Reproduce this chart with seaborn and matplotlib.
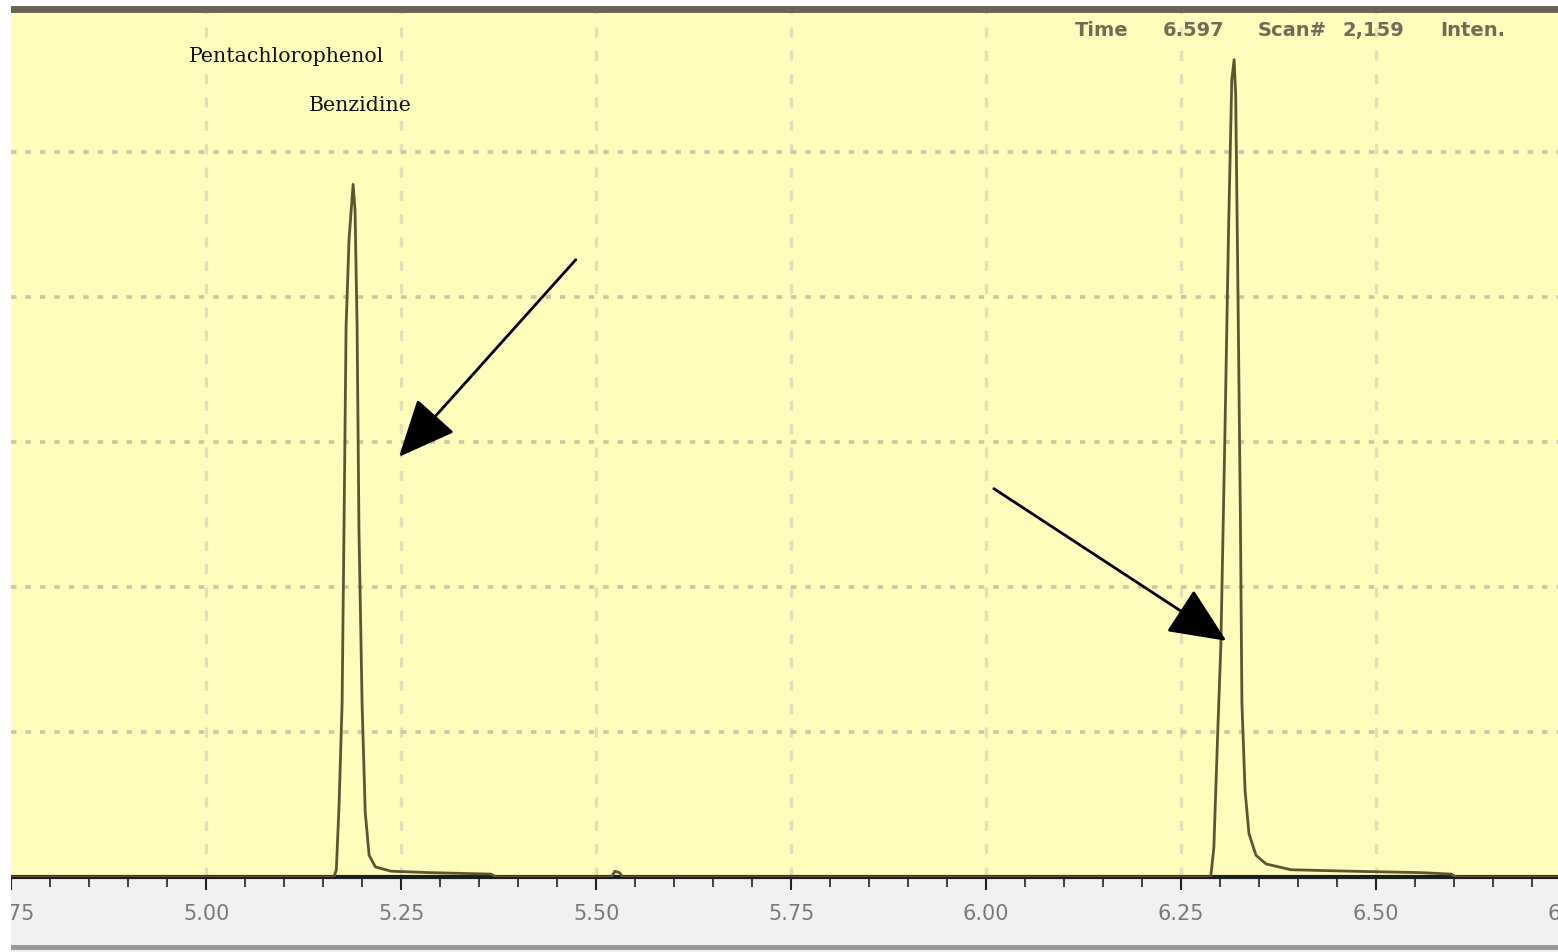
import numpy as np
import pandas as pd
import matplotlib
matplotlib.use("Agg")
import matplotlib.pyplot as plt
import matplotlib.transforms as mtransforms
from matplotlib.patches import Rectangle
import seaborn as sns

# ---- data (time in min, intensity in grid units) ----
time_min = [4.75, 5.000, 5.160, 5.164, 5.167, 5.1705, 5.1744, 5.177, 5.1795, 5.1833, 5.186,
            5.1885, 5.191, 5.1936, 5.196, 5.200, 5.204, 5.209, 5.217, 5.237, 5.288,
            5.365, 5.372, 5.520, 5.524, 5.530, 5.534, 6.000, 6.284, 6.288, 6.292, 6.297, 6.301,
            6.306, 6.311, 6.315, 6.318, 6.320, 6.323, 6.326, 6.328, 6.332, 6.337,
            6.346, 6.359, 6.391, 6.468, 6.558, 6.596, 6.603, 6.74]
intensity = [0.0, 0.0, 0.0, 0.0, 0.05, 0.5, 1.2, 2.5, 3.8, 4.4, 4.6,
             4.78, 4.6, 3.8, 2.4, 1.2, 0.45, 0.15, 0.07, 0.04, 0.03,
             0.02, 0.0, 0.0, 0.04, 0.03, 0.0, 0.0, 0.0, 0.0, 0.2, 1.0, 1.6,
             3.0, 4.5, 5.5, 5.64, 5.4, 4.0, 2.5, 1.2, 0.6, 0.3,
             0.15, 0.09, 0.05, 0.04, 0.03, 0.02, 0.0, 0.0]

tick_values = [4.75, 5.00, 5.25, 5.50, 5.75, 6.00, 6.25, 6.50, 6.75]
tick_labels = ["4.75", "5.00", "5.25", "5.50", "5.75", "6.00", "6.25", "6.50", "6.75"]

peak_names = ["Pentachlorophenol", "Benzidine"]
header_parts = ["Time", "6.597", "Scan#", "2,159", "Inten."]

df = pd.DataFrame({"time": time_min, "intensity": intensity})

sns.set_theme(style="white")
plt.rcParams["font.family"] = ["DejaVu Sans"]

W, H = 1558, 953
fig = plt.figure(figsize=(W / 100, H / 100), dpi=100)
fig.patch.set_facecolor("white")

# lower grey strip (tick label band) and frame lines
fig.add_artist(Rectangle((11 / W, 0.0), 1 - 11 / W, (953 - 878) / H, transform=fig.transFigure,
                         facecolor="#f1f1f1", edgecolor="none", zorder=0))
fig.add_artist(Rectangle((11 / W, 2 / H), 1 - 11 / W, 5 / H, transform=fig.transFigure,
                         facecolor="#9a9a9a", edgecolor="none", zorder=0))

ax = fig.add_axes([11 / W, (953 - 878) / H, 1 - 11 / W, (878 - 10) / H])
ax.set_facecolor("#fffdbb")

sns.lineplot(data=df, x="time", y="intensity", sort=False, estimator=None,
             color="#5e5434", linewidth=2.0, ax=ax, zorder=3)

ax.set_xticks(tick_values[:-1])
ax.set_xticklabels(tick_labels[:-1], color="#7a7a7a", fontsize=15,
                   family=["Liberation Sans Narrow", "DejaVu Sans"])
ax.set_xticks(np.arange(4.75, 6.74, 0.05), minor=True)
ax.tick_params(axis="x", which="major", direction="out", length=9, width=1.5,
               color="#222222", pad=10, bottom=True)
ax.tick_params(axis="x", which="minor", direction="out", length=7, width=1.3,
               color="#333333", bottom=True)
ax.set_yticks([1, 2, 3, 4, 5])
ax.tick_params(axis="y", left=False, labelleft=False)
ax.set_xlabel("")
ax.set_ylabel("")

x_left = 4.7499
ax.set_xlim(x_left, x_left + 1547 / 780)
ax.set_ylim(0, 5.99)

# right-edge label that is cut by the frame, as in the screenshot
trans = mtransforms.blended_transform_factory(ax.transData, ax.transAxes)
ax.text(tick_values[-1], -0.0304, tick_labels[-1], transform=trans, color="#7a7a7a",
        fontsize=15, ha="center", va="top", clip_on=False)

# white left margin of the screenshot hides the start of the first label
fig.add_artist(Rectangle((0, 0), 11 / W, 1, transform=fig.transFigure,
                         facecolor="white", edgecolor="none", zorder=10))

# grid
ax.grid(False)
for xv in tick_values[1:-1]:
    ax.axvline(xv, color="#e2e0b8", linestyle=(0, (3, 4)), linewidth=2.4, zorder=1)
for yv in [1, 2, 3, 4, 5]:
    ax.axhline(yv, color="#c8c6a4", linestyle=(0, (1.5, 2.5)), linewidth=2.6, zorder=1)

for side in ["left", "right"]:
    ax.spines[side].set_visible(False)
ax.spines["top"].set_color("#6b6456")
ax.spines["top"].set_linewidth(5)
ax.spines["bottom"].set_color("#1e1e1e")
ax.spines["bottom"].set_linewidth(3)

# peak labels
ax.text(4.9775, 5.67, peak_names[0], family="DejaVu Serif", fontsize=14.8,
        color="#111111", va="center", ha="left", zorder=5)
ax.text(5.1315, 5.33, peak_names[1], family="DejaVu Serif", fontsize=14.8,
        color="#111111", va="center", ha="left", zorder=5)

# arrows
arrow_kw = dict(arrowstyle="-|>,head_length=1.8,head_width=0.8", color="black",
                lw=2, mutation_scale=20, shrinkA=0, shrinkB=0)
ax.annotate("", xy=(5.2474, 2.90), xytext=(5.474, 4.26), arrowprops=arrow_kw, zorder=6)
ax.annotate("", xy=(6.308, 1.63), xytext=(6.010, 2.68), arrowprops=arrow_kw, zorder=6)

# header text
hx = [1075, 1163, 1258, 1343, 1440]
for px, s in zip(hx, header_parts):
    fig.text(px / W, 1 - 36 / H, s, color="#6f6d58", fontsize=14, fontweight="bold",
             family=["Liberation Sans Narrow", "DejaVu Sans"], va="baseline", ha="left")

fig.savefig("out.png", dpi=100)
